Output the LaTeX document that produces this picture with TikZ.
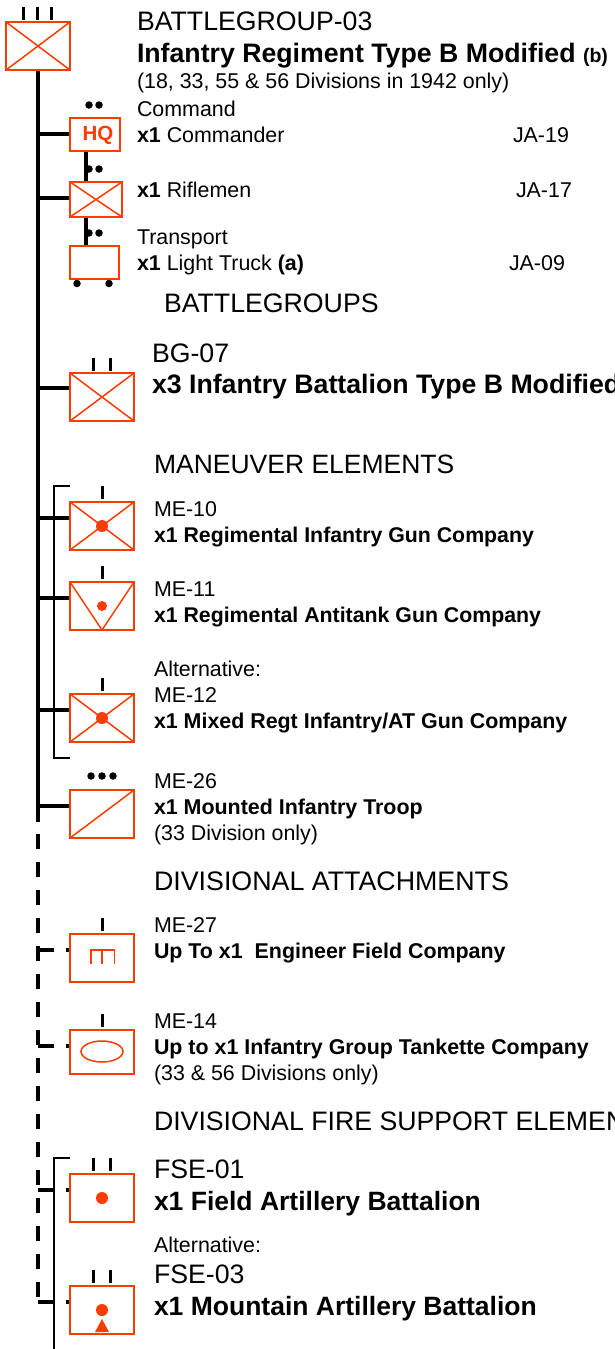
\documentclass[tikz,border=0pt]{standalone}
\usepackage{fontspec}
\usetikzlibrary{shapes.geometric}
\setmainfont{Liberation Sans}
\definecolor{sym}{RGB}{255,60,0}
\tikzset{
 x=1pt,y=-1pt,
 unit/.style={draw=sym,line width=1.9pt,fill=white,inner sep=0,outer sep=0,minimum width=#1pt,minimum height=48pt,anchor=north west},
 unit/.default=64,
 mark line/.style={draw=sym,line width=1.5pt},
 trunk/.style={line width=4pt,black},
 branch/.style={line width=3.6pt,black},
 brk/.style={line width=1.5pt,black},
 tick/.style={line width=3pt,black},
 sdot/.style={circle,fill=black,inner sep=0,minimum size=7.5pt},
 rdot/.style={circle,fill=sym,inner sep=0,minimum size=#1pt},
 rdot/.default=12,
 lab/.style={anchor=base west,inner sep=0,outer sep=0,font=\fontsize{#1}{#1}\selectfont},
 lab/.default=21.4,
 bsmall/.style={lab=21.3},
 big/.style={lab=26.7},
 bbig/.style={lab=26.5},
}
\newcommand{\xbox}[1]{\draw[mark line] (#1.north west)--(#1.south east) (#1.north east)--(#1.south west);}
\begin{document}
\begin{tikzpicture}
\useasboundingbox[fill=white] (0,0) rectangle (614,1349);
% trunk
\coordinate (tr0) at (38,822);
\coordinate (tr1) at (38,1297);
\coordinate (tr2) at (38,70);
\coordinate (tr3) at (38,834);
\draw[trunk] (tr2) -- (tr0);
\draw[trunk,dash pattern=on 15pt off 13pt] (tr3) -- (tr1);
% branches
\foreach \n/\y in {hq/134,rif/198,bg/388,m10/518,m11/598,m12/710,m26/806}{
  \coordinate (a\n) at (38,\y); \coordinate (b\n) at (70,\y);
  \draw[branch] (a\n) -- (b\n);
}
\foreach \n/\y in {m27/950,m14/1046,f1/1190,f3/1302}{
  \coordinate (a\n) at (38,\y); \coordinate (c\n) at (54,\y);
  \coordinate (d\n) at (66,\y); \coordinate (b\n) at (70,\y);
  \draw[branch] (a\n) -- (c\n);
  \draw[branch] (d\n) -- (b\n);
}
% vertical links
\coordinate (lk1) at (86,151); \coordinate (lk2) at (86,182);
\coordinate (lk3) at (86,217); \coordinate (lk4) at (86,246);
\draw[line width=4pt] (lk1)--(lk2) (lk3)--(lk4);
% brackets
\coordinate (br1) at (70,486); \coordinate (br2) at (54,486);
\coordinate (br3) at (54,758); \coordinate (br4) at (70,758);
\draw[brk] (br1)--(br2)--(br3)--(br4);
\coordinate (br5) at (70,1158); \coordinate (br6) at (54,1158); \coordinate (br7) at (54,1349);
\draw[brk] (br5)--(br6)--(br7);
% units
\node[unit] (top) at (6,22) {};
\node[unit=50,minimum height=33pt] (hq) at (70,118) {};
\node[unit=52,minimum height=35pt] (rif) at (70,182) {};
\node[unit=49,minimum height=33pt] (trk) at (70,246) {};
\node[unit] (bg) at (70,373) {};
\node[unit] (m10) at (70,502) {};
\node[unit] (m11) at (70,582) {};
\node[unit] (m12) at (70,694) {};
\node[unit] (m26) at (70,790) {};
\node[unit] (m27) at (70,934) {};
\node[unit,minimum height=44pt] (m14) at (70,1030) {};
\node[unit] (f1) at (70,1174) {};
\node[unit] (f3) at (70,1286) {};
% symbols
\xbox{top}\xbox{rif}\xbox{bg}\xbox{m10}\xbox{m12}
\draw[mark line] (m11.north west)--(m11.south)--(m11.north east);
\draw[mark line] (m26.south west)--(m26.north east);
\node[rdot] (d10) at (102,526) {};
\node[rdot=10] (d11) at (102,606) {};
\node[rdot] (d12) at (102,718) {};
\node[rdot] (d13) at (102,1198) {};
\node[rdot] (d14) at (102,1310) {};
\fill[sym] (95,1332)--(102,1319)--(109,1332)--cycle;
\draw[mark line] (91,964)--(91,950)--(114.5,950)--(114.5,964) (102,950)--(102,964);
\node[draw=sym,line width=1.5pt,ellipse,inner sep=0,minimum width=42pt,minimum height=21pt] (ell) at (102,1051.5) {};
\node[anchor=center,inner sep=0,text=sym,font=\fontsize{20.5}{20.5}\selectfont\bfseries] (hqt) at (98,135) {HQ};
% echelon ticks
\foreach \x in {23.7,37.7,51.7}{\draw[tick] (\x,6.5)--(\x,20);}
\foreach \x/\y in {93/358,110/358,102/486,102/566,102/678,102/918,102/1014,93/1158,110/1158,93/1270,110/1270}{\draw[tick] (\x,\y)--(\x,\y+13);}
\foreach \x/\y in {89/105,99/105,89/169,99/169,89/233,99/233,91/776,102/776,113/776,77/283.5,109/283.5}{\node[sdot] at (\x,\y) {};}
% texts
\node[big] (t1) at (137,30) {BATTLEGROUP-03};
\node[big] (t2) at (137,62) {\bfseries Infantry Regiment Type B Modified {\fontsize{19.5}{19.5}\selectfont(b)}};
\node[lab] (t3) at (137,88) {(18, 33, 55 \& 56 Divisions in 1942 only)};
\node[lab] (t4) at (137,116) {Command};
\node[lab] (t5) at (137,142) {\textbf{x1} Commander};
\node[lab] (t6) at (513,142) {JA-19};
\node[lab] (t7) at (137,197) {\textbf{x1} Riflemen};
\node[lab] (t8) at (516,197) {JA-17};
\node[lab] (t9) at (137,244) {Transport};
\node[lab] (t10) at (137,270) {\textbf{x1} Light Truck \textbf{(a)}};
\node[lab] (t11) at (509,270) {JA-09};
\node[big] (t12) at (164,312) {BATTLEGROUPS};
\node[big] (t13) at (152,362) {BG-07};
\node[big] (t14) at (152,393) {\bfseries x3 Infantry Battalion Type B Modified};
\node[bbig] (t15) at (154,473) {MANEUVER ELEMENTS};
\node[lab] at (154,516) {ME-10};
\node[bsmall] at (154,542) {\bfseries x1 Regimental Infantry Gun Company};
\node[lab] at (154,596) {ME-11};
\node[bsmall] at (154,622) {\bfseries x1 Regimental Antitank Gun Company};
\node[lab] at (154,676) {Alternative:};
\node[lab] at (154,702) {ME-12};
\node[lab] at (154,728) {\bfseries x1 Mixed Regt Infantry/AT Gun Company};
\node[lab] at (154,788) {ME-26};
\node[lab] at (154,814) {\bfseries x1 Mounted Infantry Troop};
\node[lab] at (154,840) {(33 Division only)};
\node[lab=26.8] at (154,890) {DIVISIONAL ATTACHMENTS};
\node[lab] at (154,932) {ME-27};
\node[lab] at (154,958) {\bfseries Up To x1\ \ Engineer Field Company};
\node[lab] at (154,1028) {ME-14};
\node[lab] at (154,1054) {\bfseries Up to x1 Infantry Group Tankette Company};
\node[lab] at (154,1080) {(33 \& 56 Divisions only)};
\node[big] at (154,1130) {DIVISIONAL FIRE SUPPORT ELEMENTS};
\node[big] at (154,1178) {FSE-01};
\node[bbig] at (154,1210) {\bfseries x1 Field Artillery Battalion};
\node[lab] at (154,1252) {Alternative:};
\node[big] at (154,1283) {FSE-03};
\node[bbig] at (154,1315) {\bfseries x1 Mountain Artillery Battalion};
\end{tikzpicture}
\end{document}
